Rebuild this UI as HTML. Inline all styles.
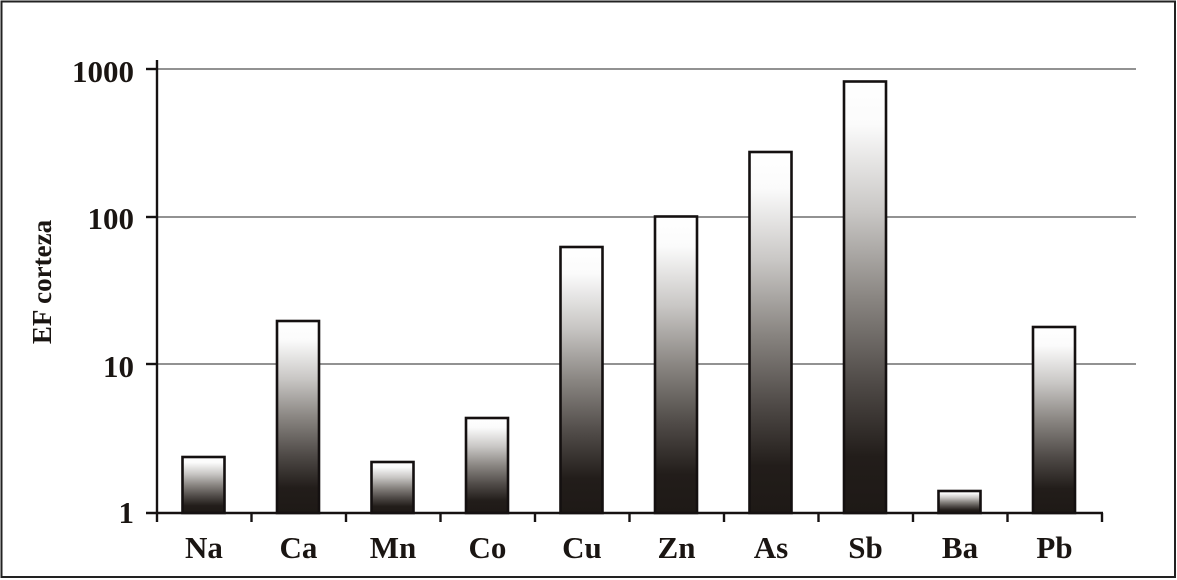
<!DOCTYPE html>
<html>
<head>
<meta charset="utf-8">
<style>
html,body{margin:0;padding:0;background:#fff;}
svg{display:block;}
text{font-family:"Liberation Serif","Times New Roman",serif;font-weight:bold;fill:#1a1512;}
</style>
</head>
<body>
<svg width="1177" height="580" viewBox="0 0 1177 580" xmlns="http://www.w3.org/2000/svg">
<defs>
<linearGradient id="g" x1="0" y1="0" x2="0" y2="1">
<stop offset="0" stop-color="#ffffff"/>
<stop offset="0.1" stop-color="#fbfbfb"/>
<stop offset="0.3" stop-color="#c9c7c5"/>
<stop offset="0.5" stop-color="#8a8682"/>
<stop offset="0.7" stop-color="#4f4a47"/>
<stop offset="0.87" stop-color="#221d1a"/>
<stop offset="1" stop-color="#1e1916"/>
</linearGradient>
</defs>
<rect x="0" y="0" width="1177" height="580" fill="#fff"/>
<rect x="1.5" y="1.5" width="1173.5" height="575.5" fill="none" stroke="#222" stroke-width="2"/>

<!-- gridlines -->
<g stroke="#6e6e6e" stroke-width="1.6">
<line x1="157" y1="69" x2="1136" y2="69"/>
<line x1="157" y1="217" x2="1136" y2="217"/>
<line x1="157" y1="364" x2="1136" y2="364"/>
</g>

<!-- bars -->
<g stroke="#141010" stroke-width="2.6" fill="url(#g)">
<rect x="182.5" y="457" width="42" height="56"/>
<rect x="277" y="321" width="42" height="192"/>
<rect x="371.5" y="462" width="42" height="51"/>
<rect x="466" y="418" width="42" height="95"/>
<rect x="560.5" y="247" width="42" height="266"/>
<rect x="655" y="216.5" width="42" height="296.5"/>
<rect x="749.5" y="152" width="42" height="361"/>
<rect x="844" y="81.5" width="42" height="431.5"/>
<rect x="938.5" y="491" width="42" height="22"/>
<rect x="1033" y="327" width="42" height="186"/>
</g>

<!-- axes -->
<g stroke="#161212" stroke-width="2.4">
<line x1="157" y1="60" x2="157" y2="514"/>
<line x1="146" y1="69" x2="157" y2="69"/>
<line x1="146" y1="217" x2="157" y2="217"/>
<line x1="146" y1="364" x2="157" y2="364"/>
<line x1="146" y1="513" x2="1103" y2="513"/>
<line x1="157" y1="513" x2="157" y2="522"/>
<line x1="251.5" y1="513" x2="251.5" y2="522"/>
<line x1="346" y1="513" x2="346" y2="522"/>
<line x1="440.5" y1="513" x2="440.5" y2="522"/>
<line x1="535" y1="513" x2="535" y2="522"/>
<line x1="629.5" y1="513" x2="629.5" y2="522"/>
<line x1="724" y1="513" x2="724" y2="522"/>
<line x1="818.5" y1="513" x2="818.5" y2="522"/>
<line x1="913" y1="513" x2="913" y2="522"/>
<line x1="1007.5" y1="513" x2="1007.5" y2="522"/>
<line x1="1102" y1="513" x2="1102" y2="522"/>
</g>

<!-- y tick labels -->
<g font-size="31" text-anchor="end">
<text x="134" y="82">1000</text>
<text x="134" y="229">100</text>
<text x="134" y="377">10</text>
<text x="134" y="523">1</text>
</g>

<!-- y title -->
<text font-size="27" text-anchor="middle" transform="translate(51,282) rotate(-90)">EF corteza</text>

<!-- x labels -->
<g font-size="31" text-anchor="middle">
<text x="204" y="558">Na</text>
<text x="298.5" y="558">Ca</text>
<text x="393" y="558">Mn</text>
<text x="487.5" y="558">Co</text>
<text x="582" y="558">Cu</text>
<text x="676.5" y="558">Zn</text>
<text x="771" y="558">As</text>
<text x="865.5" y="558">Sb</text>
<text x="960" y="558">Ba</text>
<text x="1054.5" y="558">Pb</text>
</g>
</svg>
</body>
</html>
